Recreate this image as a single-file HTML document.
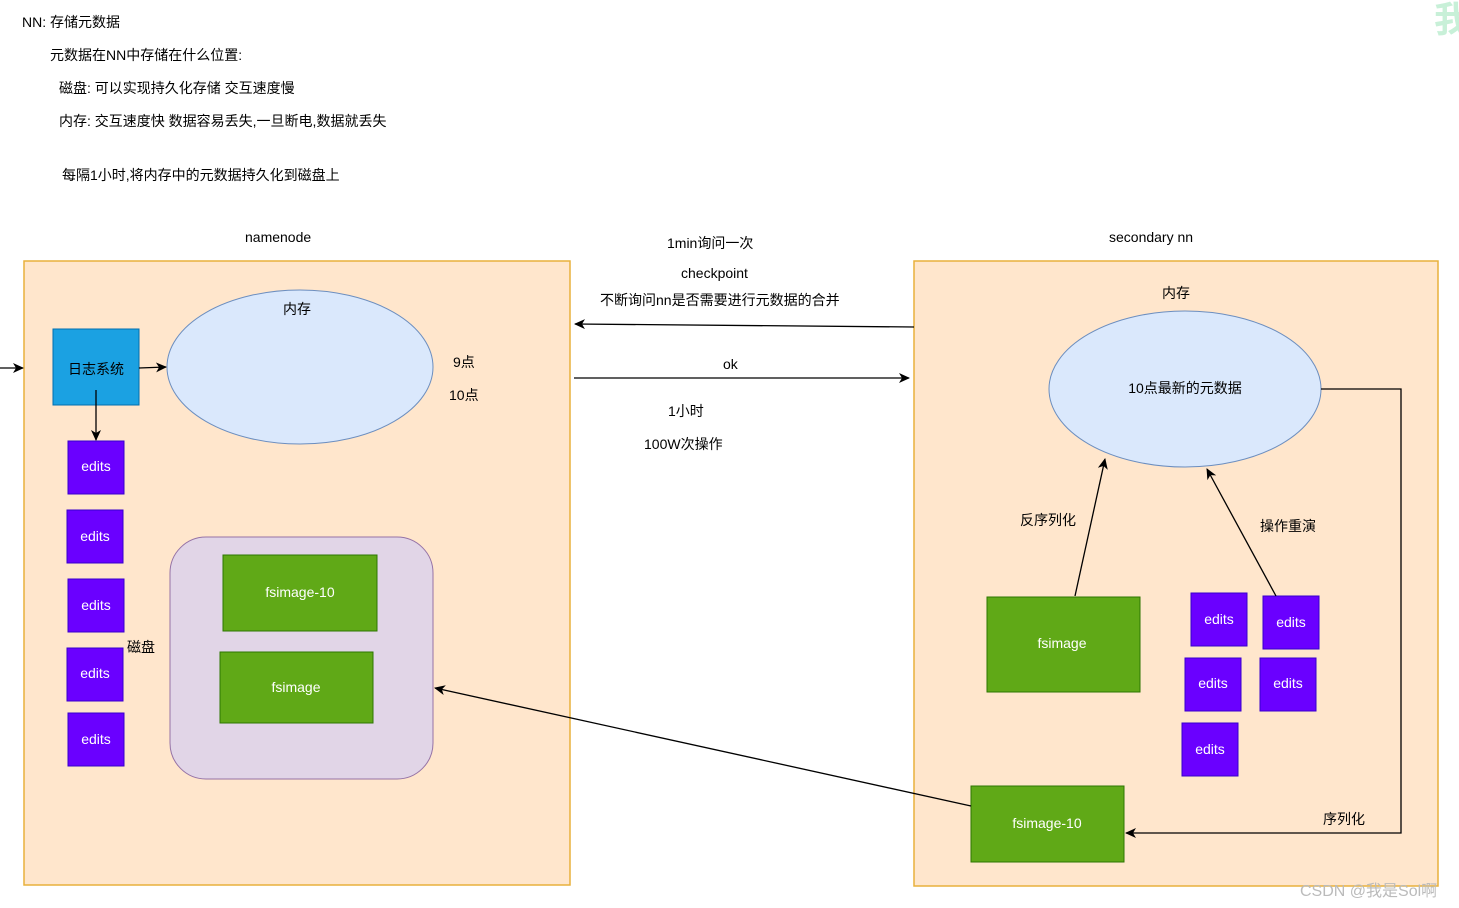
<!DOCTYPE html>
<html><head><meta charset="utf-8"><style>
html,body{margin:0;padding:0;background:#fff;}
svg{display:block;font-family:"Liberation Sans","Noto Sans CJK SC",sans-serif;}
</style></head><body>
<svg width="1459" height="908" viewBox="0 0 1459 908" xmlns="http://www.w3.org/2000/svg">
<defs>
<marker id="a" markerWidth="12" markerHeight="10" refX="10" refY="5" orient="auto" markerUnits="userSpaceOnUse">
<path d="M0,0 L11,5 L0,10 L3,5 Z" fill="#000"/></marker>
</defs>
<g font-size="14" fill="#000">
<text x="22" y="27">NN: 存储元数据</text>
<text x="50" y="60">元数据在NN中存储在什么位置:</text>
<text x="59" y="93">磁盘:   可以实现持久化存储       交互速度慢</text>
<text x="59" y="126">内存:   交互速度快    数据容易丢失,一旦断电,数据就丢失</text>
<text x="62" y="180">每隔1小时,将内存中的元数据持久化到磁盘上</text>
<text x="245" y="242">namenode</text>
<text x="1109" y="242">secondary nn</text>
<text x="667" y="248">1min询问一次</text>
<text x="681" y="278">checkpoint</text>
<text x="600" y="305">不断询问nn是否需要进行元数据的合并</text>
<text x="723" y="369">ok</text>
<text x="668" y="416">1小时</text>
<text x="644" y="449">100W次操作</text>
</g>
<text x="1434" y="32" font-size="36" fill="#c8f0d8" font-weight="bold">我</text>
<rect x="24" y="261" width="546" height="624" fill="#ffe6cc" stroke="#e8b13c" stroke-width="1.5"/>
<rect x="914" y="261" width="524" height="625" fill="#ffe6cc" stroke="#e8b13c" stroke-width="1.5"/>
<rect x="53" y="329" width="86" height="76" fill="#1ba1e2" stroke="#006eaf"/>
<text x="96" y="374" font-size="14" text-anchor="middle">日志系统</text>
<ellipse cx="300" cy="367" rx="133" ry="77" fill="#dae8fc" stroke="#6c8ebf"/>
<text x="297" y="314" font-size="14" text-anchor="middle">内存</text>
<text x="453" y="367" font-size="14">9点</text>
<text x="449" y="400" font-size="14">10点</text>
<rect x="170" y="537" width="263" height="242" rx="36" fill="#e1d5e7" stroke="#9673a6"/>
<text x="127" y="652" font-size="14">磁盘</text>
<g fill="#60a917" stroke="#2d7600">
<rect x="223" y="555" width="154" height="76"/>
<rect x="220" y="652" width="153" height="71"/>
<rect x="987" y="597" width="153" height="95"/>
<rect x="971" y="786" width="153" height="76"/>
</g>
<g fill="#fff" font-size="14" text-anchor="middle">
<text x="300" y="597">fsimage-10</text>
<text x="296" y="692">fsimage</text>
<text x="1062" y="648">fsimage</text>
<text x="1047" y="828">fsimage-10</text>
</g>
<g fill="#6a00ff" stroke="#3700cc">
<rect x="68" y="441" width="56" height="53"/>
<rect x="67" y="510" width="56" height="53"/>
<rect x="68" y="579" width="56" height="53"/>
<rect x="67" y="648" width="56" height="53"/>
<rect x="68" y="713" width="56" height="53"/>
<rect x="1191" y="593" width="56" height="53"/>
<rect x="1263" y="596" width="56" height="53"/>
<rect x="1185" y="658" width="56" height="53"/>
<rect x="1260" y="658" width="56" height="53"/>
<rect x="1182" y="723" width="56" height="53"/>
</g>
<g fill="#fff" font-size="14" text-anchor="middle">
<text x="96" y="471">edits</text>
<text x="95" y="541">edits</text>
<text x="96" y="610">edits</text>
<text x="95" y="678">edits</text>
<text x="96" y="744">edits</text>
<text x="1219" y="624">edits</text>
<text x="1291" y="627">edits</text>
<text x="1213" y="688">edits</text>
<text x="1288" y="688">edits</text>
<text x="1210" y="754">edits</text>
</g>
<ellipse cx="1185" cy="389" rx="136" ry="78" fill="#dae8fc" stroke="#6c8ebf"/>
<text x="1176" y="298" font-size="14" text-anchor="middle">内存</text>
<text x="1185" y="393" font-size="14" text-anchor="middle">10点最新的元数据</text>
<g font-size="14">
<text x="1020" y="525">反序列化</text>
<text x="1260" y="531">操作重演</text>
<text x="1323" y="824">序列化</text>
</g>
<g stroke="#000" stroke-width="1.3" fill="none" marker-end="url(#a)">
<line x1="0" y1="368" x2="23" y2="368"/>
<line x1="139" y1="368" x2="166" y2="367"/>
<line x1="96" y1="390" x2="96" y2="440"/>
<line x1="914" y1="327" x2="575" y2="324"/>
<line x1="574" y1="378" x2="909" y2="378"/>
<line x1="1075" y1="596" x2="1105" y2="459"/>
<line x1="1276" y1="596" x2="1207" y2="469"/>
<polyline points="1321,389 1401,389 1401,833 1126,833"/>
<line x1="971" y1="806" x2="435" y2="688"/>
</g>
<text x="1300" y="896" font-size="16" fill="#bbb">CSDN @我是Sol啊</text>
</svg>
</body></html>
